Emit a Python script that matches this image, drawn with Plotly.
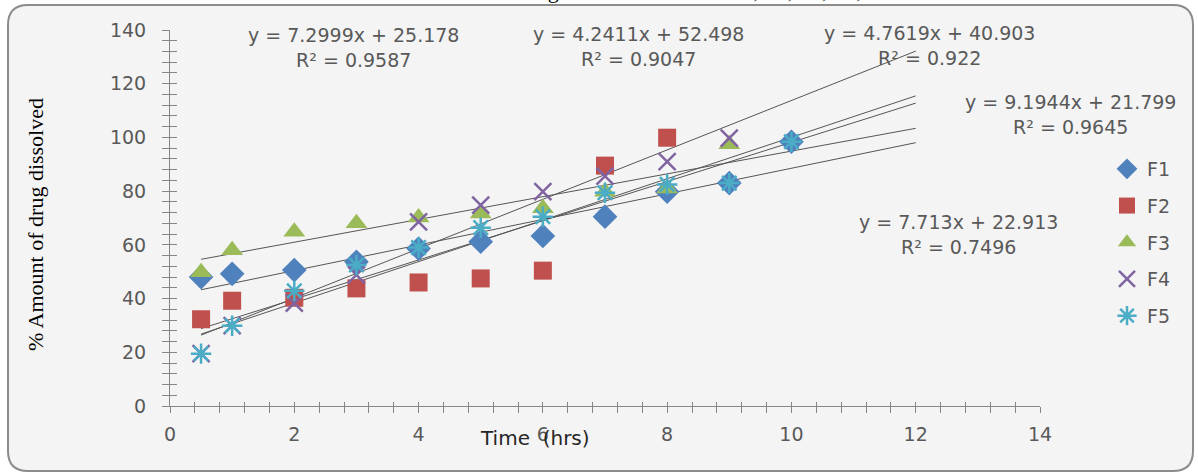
import numpy as np
import plotly.graph_objects as go

# ---------------- data ----------------
time_f1 = [0.5, 1, 2, 3, 4, 5, 6, 7, 8, 9, 10]
f1 = [48.0, 49.2, 50.6, 53.7, 58.6, 61.2, 63.3, 70.5, 79.8, 83.0, 98.4]
time_f2 = [0.5, 1, 2, 3, 4, 5, 6, 7, 8]
f2 = [32.3, 39.2, 40.3, 43.8, 46.0, 47.5, 50.4, 89.5, 99.9]
time_f3 = [0.5, 1, 2, 3, 4, 5, 6, 7, 8, 9]
f3 = [49.8, 58.0, 64.9, 68.0, 70.2, 71.7, 73.6, 79.8, 81.0, 97.5]
time_f4 = [0.5, 1, 2, 3, 4, 5, 6, 7, 8, 9]
f4 = [19.5, 29.9, 38.3, 48.8, 68.6, 74.8, 79.8, 85.6, 91.0, 99.7]
time_f5 = [0.5, 1, 2, 3, 4, 5, 6, 7, 8, 9, 10]
f5 = [19.5, 29.9, 42.9, 52.5, 59.0, 66.4, 70.5, 79.4, 82.5, 83.0, 98.4]

series_names = ["F1", "F2", "F3", "F4", "F5"]

# linear trendlines shown on the chart
trend_slopes = [7.2999, 4.2411, 4.7619, 9.1944, 7.713]
trend_intercepts = [25.178, 52.498, 40.903, 21.799, 22.913]
trend_r2 = ["0.9587", "0.9047", "0.922", "0.9645", "0.7496"]
trend_x_range = [0.5, 12]

x_ticks = [0, 2, 4, 6, 8, 10, 12, 14]
y_ticks = [0, 20, 40, 60, 80, 100, 120, 140]

# ---------------- layout geometry ----------------
W, H = 1198, 475
ML, MR, MT, MB = 170, 158, 30, 69
PW, PH = W - ML - MR, H - MT - MB


def px2paper(px, py):
    return (px - ML) / PW, (H - MB - py) / PH


fig = go.Figure()

# trendlines
tx = np.array(trend_x_range)
for m, c in zip(trend_slopes, trend_intercepts):
    fig.add_trace(go.Scatter(x=tx, y=m * tx + c, mode="lines",
                             line=dict(color="#555555", width=1),
                             showlegend=False, hoverinfo="skip"))

styles = [
    dict(symbol="diamond", color="#4F81BD", size=19, line=dict(width=0)),
    dict(symbol="square", color="#C0504D", size=18, line=dict(width=0)),
    dict(symbol="triangle-up", color="#9BBB59", size=19, line=dict(width=0)),
    dict(symbol="x-thin-open", color="#8064A2", size=17, line=dict(width=2.5, color="#8064A2")),
    dict(symbol="asterisk-open", color="#4BACC6", size=17, line=dict(width=2.5, color="#4BACC6")),
]
xs = [time_f1, time_f2, time_f3, time_f4, time_f5]
ys = [f1, f2, f3, f4, f5]
for name, x, y, st in zip(series_names, xs, ys, styles):
    fig.add_trace(go.Scatter(x=x, y=y, mode="markers", name=name,
                             marker=st, legendgroup=name))

# invisible trace for the overlay axes (inside half of crossing ticks)
fig.add_trace(go.Scatter(x=[None], y=[None], xaxis="x2", yaxis="y2",
                         showlegend=False, hoverinfo="skip"))

axis_col = "#868686"
tick_font = dict(family="DejaVu Sans", size=19, color="#595959")

# rounded chart-area border
x0, y0, x1, y1, r = 8, 5, 1193, 471, 20


def P(px, py):
    a, b = px2paper(px, py)
    return f"{a:.5f},{b:.5f}"


path = (f"M {P(x0 + r, y0)} L {P(x1 - r, y0)} Q {P(x1, y0)} {P(x1, y0 + r)} "
        f"L {P(x1, y1 - r)} Q {P(x1, y1)} {P(x1 - r, y1)} "
        f"L {P(x0 + r, y1)} Q {P(x0, y1)} {P(x0, y1 - r)} "
        f"L {P(x0, y0 + r)} Q {P(x0, y0)} {P(x0 + r, y0)} Z")

annotations = []
eq_pos = [(353, 47.5), (638, 46.5), (929, 45.5), (1070, 114.5), (958, 234.5)]
for (px, py), m, c, r2 in zip(eq_pos, trend_slopes, trend_intercepts, trend_r2):
    ax, ay = px2paper(px, py)
    annotations.append(dict(
        xref="paper", yref="paper", x=ax, y=ay, xanchor="center", yanchor="middle",
        text=f"y = {m}x + {c}<br>R² = {r2}", showarrow=False, align="center",
        font=dict(family="DejaVu Sans", size=19, color="#595959")))

ax, ay = px2paper(36, 225)
annotations.append(dict(xref="paper", yref="paper", x=ax, y=ay, textangle=-90,
                        text="% Amount of drug dissolved", showarrow=False,
                        xanchor="center", yanchor="middle",
                        font=dict(family="Liberation Serif", size=22, color="#000000")))
ax, ay = px2paper(535, 438)
annotations.append(dict(xref="paper", yref="paper", x=ax, y=ay,
                        text="Time  (hrs)", showarrow=False,
                        xanchor="center", yanchor="middle",
                        font=dict(family="DejaVu Sans", size=20, color="#262626")))
# clipped chart title at the very top (only its descenders show, as in the source)
ax, ay = px2paper(610, 5)
annotations.append(dict(xref="paper", yref="paper", x=ax, y=ay,
                        text="Zero order release of drug from formulations F1, F2, F3, F4, F5",
                        showarrow=False, xanchor="center", yanchor="bottom",
                        font=dict(family="Liberation Serif", size=22, color="#000000")))

lx, ly = px2paper(1107, 150)

fig.update_layout(
    width=W, height=H, autosize=False,
    margin=dict(l=ML, r=MR, t=MT, b=MB, autoexpand=False),
    paper_bgcolor="white", plot_bgcolor="rgba(0,0,0,0)",
    shapes=[dict(type="path", xref="paper", yref="paper", path=path,
                 fillcolor="#F4F4F4", line=dict(color="#8C8C8C", width=2),
                 layer="below")],
    annotations=annotations,
    showlegend=True,
    legend=dict(x=lx, y=ly, xanchor="left", yanchor="top",
                bgcolor="rgba(0,0,0,0)", traceorder="grouped",
                tracegroupgap=9,
                font=dict(family="DejaVu Sans", size=19, color="#595959")),
    xaxis=dict(range=[0, 14], tickvals=x_ticks, showgrid=False, zeroline=False,
               showline=True, linecolor=axis_col, linewidth=1,
               ticks="outside", ticklen=6, tickcolor=axis_col,
               minor=dict(dtick=0.4, tick0=0, ticks="outside", ticklen=6,
                          tickcolor=axis_col, showgrid=False),
               tickfont=tick_font, ticklabelstandoff=5),
    yaxis=dict(range=[0, 140], tickvals=y_ticks, showgrid=False, zeroline=False,
               showline=True, linecolor=axis_col, linewidth=1,
               ticks="outside", ticklen=7, tickcolor=axis_col,
               minor=dict(dtick=4, tick0=0, ticks="outside", ticklen=7,
                          tickcolor=axis_col, showgrid=False),
               tickfont=tick_font, ticklabelstandoff=12),
    xaxis2=dict(range=[0, 14], overlaying="x", anchor="y", side="bottom",
                tickvals=x_ticks, showgrid=False, zeroline=False, showline=False,
                showticklabels=False, ticks="inside", ticklen=4, tickcolor=axis_col,
                minor=dict(dtick=0.4, tick0=0, ticks="inside", ticklen=4,
                           tickcolor=axis_col, showgrid=False)),
    yaxis2=dict(range=[0, 140], overlaying="y", anchor="x", side="left",
                tickvals=y_ticks, showgrid=False, zeroline=False, showline=False,
                showticklabels=False, ticks="inside", ticklen=7, tickcolor=axis_col,
                minor=dict(dtick=4, tick0=0, ticks="inside", ticklen=7,
                           tickcolor=axis_col, showgrid=False)),
)

fig.write_html("out.html", config={"displayModeBar": False},
               post_script="document.body.style.margin='0';document.body.style.overflow='hidden';")
